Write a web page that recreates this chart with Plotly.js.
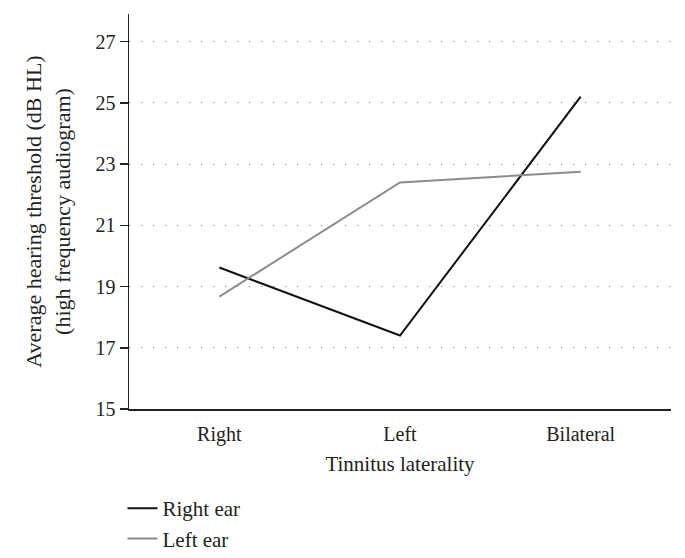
<!DOCTYPE html>
<html>
<head>
<meta charset="utf-8">
<script src="https://cdn.plot.ly/plotly-3.0.1.min.js"></script>
<style>html,body{margin:0;padding:0;background:#fff;}#chart{width:685px;height:558px;}</style>
</head>
<body>
<div id="chart"></div>
<script>
const categories = ["Right", "Left", "Bilateral"];
const rightEar = [19.62, 17.4, 25.2];
const leftEar = [18.67, 22.4, 22.75];
const seriesNames = ["Right ear", "Left ear"];

const FONT = "Liberation Serif, Times New Roman, serif";
const C = "#222";

const traces = [
  {x: categories, y: rightEar, name: seriesNames[0], type: "scatter", mode: "lines",
   line: {color: "#111111", width: 2}},
  {x: categories, y: leftEar, name: seriesNames[1], type: "scatter", mode: "lines",
   line: {color: "#8c8c8c", width: 2}}
];

const layout = {
  width: 685, height: 558,
  margin: {l: 129, r: 14, t: 14, b: 149, autoexpand: false},
  paper_bgcolor: "#fff", plot_bgcolor: "#fff",
  font: {family: FONT, size: 21, color: C},
  showlegend: true,
  legend: {x: -0.012, y: -0.2, xanchor: "left", yanchor: "top",
           font: {family: FONT, size: 21, color: C}, tracegroupgap: 0, itemwidth: 30},
  xaxis: {
    type: "category", range: [-0.5, 2.5], automargin: false,
    showline: true, linecolor: C, linewidth: 1.5,
    showgrid: false, ticks: "outside", ticklen: 6, tickcolor: "rgba(0,0,0,0)", zeroline: false,
    tickfont: {family: FONT, size: 20, color: C},
    title: {text: "Tinnitus laterality", font: {family: FONT, size: 21, color: C}, standoff: 12}
  },
  yaxis: {
    range: [15, 27.9], tick0: 15, dtick: 2, automargin: false,
    showline: true, linecolor: C, linewidth: 1.5,
    ticks: "outside", ticklen: 8, tickwidth: 1.5, tickcolor: C,
    showgrid: true, gridcolor: "#777", gridwidth: 1, griddash: "1px,11px",
    zeroline: false,
    tickfont: {family: FONT, size: 20, color: C},
    title: {text: "Average hearing threshold (dB HL)<br>(high frequency audiogram)",
            font: {family: FONT, size: 22, color: C}, standoff: 19}
  }
};

Plotly.newPlot("chart", traces, layout, {displayModeBar: false, staticPlot: true});
</script>
</body>
</html>
